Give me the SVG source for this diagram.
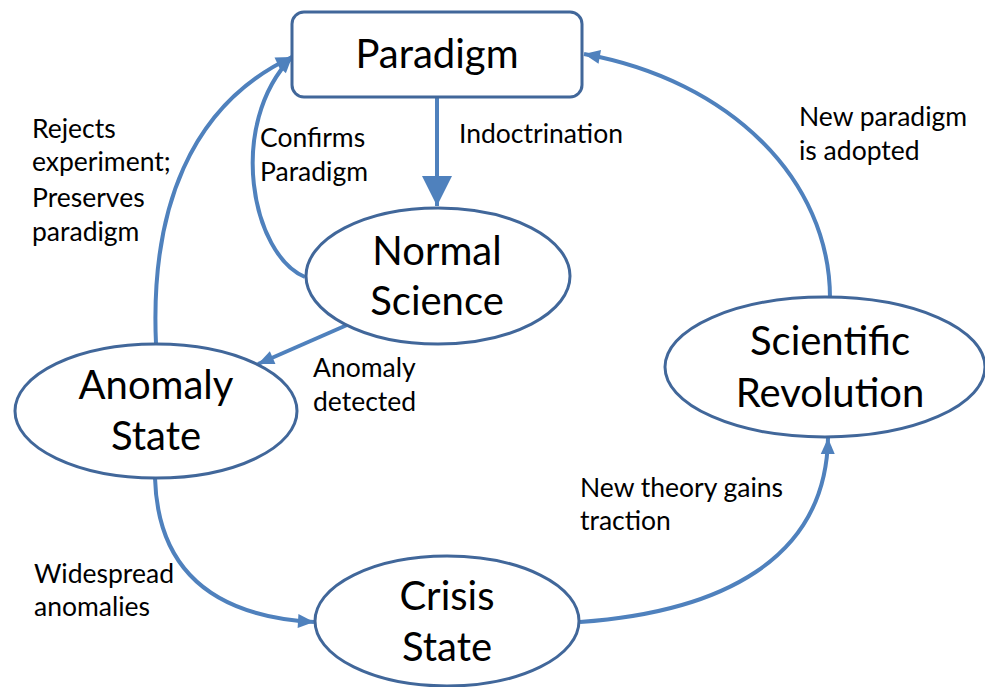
<svg xmlns="http://www.w3.org/2000/svg" width="985" height="687" viewBox="0 0 985 687">
  <style>
    .node { fill: #ffffff; stroke: #41679a; stroke-width: 3; }
    .big { font-family: Lato, "Open Sans", sans-serif; font-size: 40px; fill: #000; text-anchor: middle; }
    .lbl { font-family: Lato, "Open Sans", sans-serif; font-size: 26.5px; fill: #000; }
    .edge { fill: none; stroke: #4f81bd; stroke-width: 4; }
  </style>
  <defs>
    <marker id="arrow" markerUnits="userSpaceOnUse" markerWidth="20" markerHeight="20" viewBox="0 0 20 20" refX="18" refY="10" orient="auto">
      <path d="M2,3 L18,10 L2,17 Z" fill="#4f81bd"/>
    </marker>
    <marker id="arrowBig" markerUnits="userSpaceOnUse" markerWidth="34" markerHeight="34" viewBox="0 0 34 34" refX="32" refY="17" orient="auto">
      <path d="M2,2 L32,17 L2,32 Z" fill="#4f81bd"/>
    </marker>
  </defs>

  <rect width="985" height="687" fill="#ffffff"/>

  <!-- connectors -->
  <g id="connectors">
    <path class="edge" d="M437,98 L437,206" stroke-width="7" marker-end="url(#arrowBig)"/>
    <path class="edge" d="M305,277 C252,255 226,125 292,57" marker-end="url(#arrow)"/>
    <path class="edge" d="M156,344 C150,210 190,105 292,57" marker-end="url(#arrow)"/>
    <path class="edge" d="M347,325 L258,364" marker-end="url(#arrow)"/>
    <path class="edge" d="M155,478 C158,580 225,617 314,622" marker-end="url(#arrow)"/>
    <path class="edge" d="M580,622 C720,612 826,560 828,438" marker-end="url(#arrow)"/>
    <path class="edge" d="M830,298 C830,180 730,80 584,54" marker-end="url(#arrow)"/>
  </g>

  <!-- nodes -->
  <g id="paradigm">
    <rect class="node" x="292" y="12" width="290" height="85" rx="12" ry="12"/>
    <text class="big" x="437" y="68">Paradigm</text>
  </g>
  <g id="normal-science">
    <ellipse class="node" cx="438" cy="276" rx="132" ry="68"/>
    <text class="big" x="437" y="265">Normal</text>
    <text class="big" x="437" y="315">Science</text>
  </g>
  <g id="anomaly-state">
    <ellipse class="node" cx="156" cy="411" rx="141" ry="67"/>
    <text class="big" x="156" y="399">Anomaly</text>
    <text class="big" x="156" y="450">State</text>
  </g>
  <g id="crisis-state">
    <ellipse class="node" cx="447" cy="621" rx="132" ry="65"/>
    <text class="big" x="447" y="610">Crisis</text>
    <text class="big" x="447" y="661">State</text>
  </g>
  <g id="scientific-revolution">
    <ellipse class="node" cx="825" cy="367" rx="160" ry="70"/>
    <text class="big" x="830" y="355">Scientific</text>
    <text class="big" x="830" y="407">Revolution</text>
  </g>

  <!-- edge labels -->
  <g id="labels">
    <text class="lbl" x="32" y="138">Rejects</text>
    <text class="lbl" x="32" y="171">experiment;</text>
    <text class="lbl" x="32" y="207">Preserves</text>
    <text class="lbl" x="32" y="241">paradigm</text>
    <text class="lbl" x="260" y="147">Confirms</text>
    <text class="lbl" x="260" y="181">Paradigm</text>
    <text class="lbl" x="459" y="143">Indoctrination</text>
    <text class="lbl" x="799" y="126">New paradigm</text>
    <text class="lbl" x="799" y="160">is adopted</text>
    <text class="lbl" x="313" y="377">Anomaly</text>
    <text class="lbl" x="313" y="411">detected</text>
    <text class="lbl" x="580" y="497">New theory gains</text>
    <text class="lbl" x="580" y="530">traction</text>
    <text class="lbl" x="34" y="583">Widespread</text>
    <text class="lbl" x="34" y="616">anomalies</text>
  </g>
</svg>
